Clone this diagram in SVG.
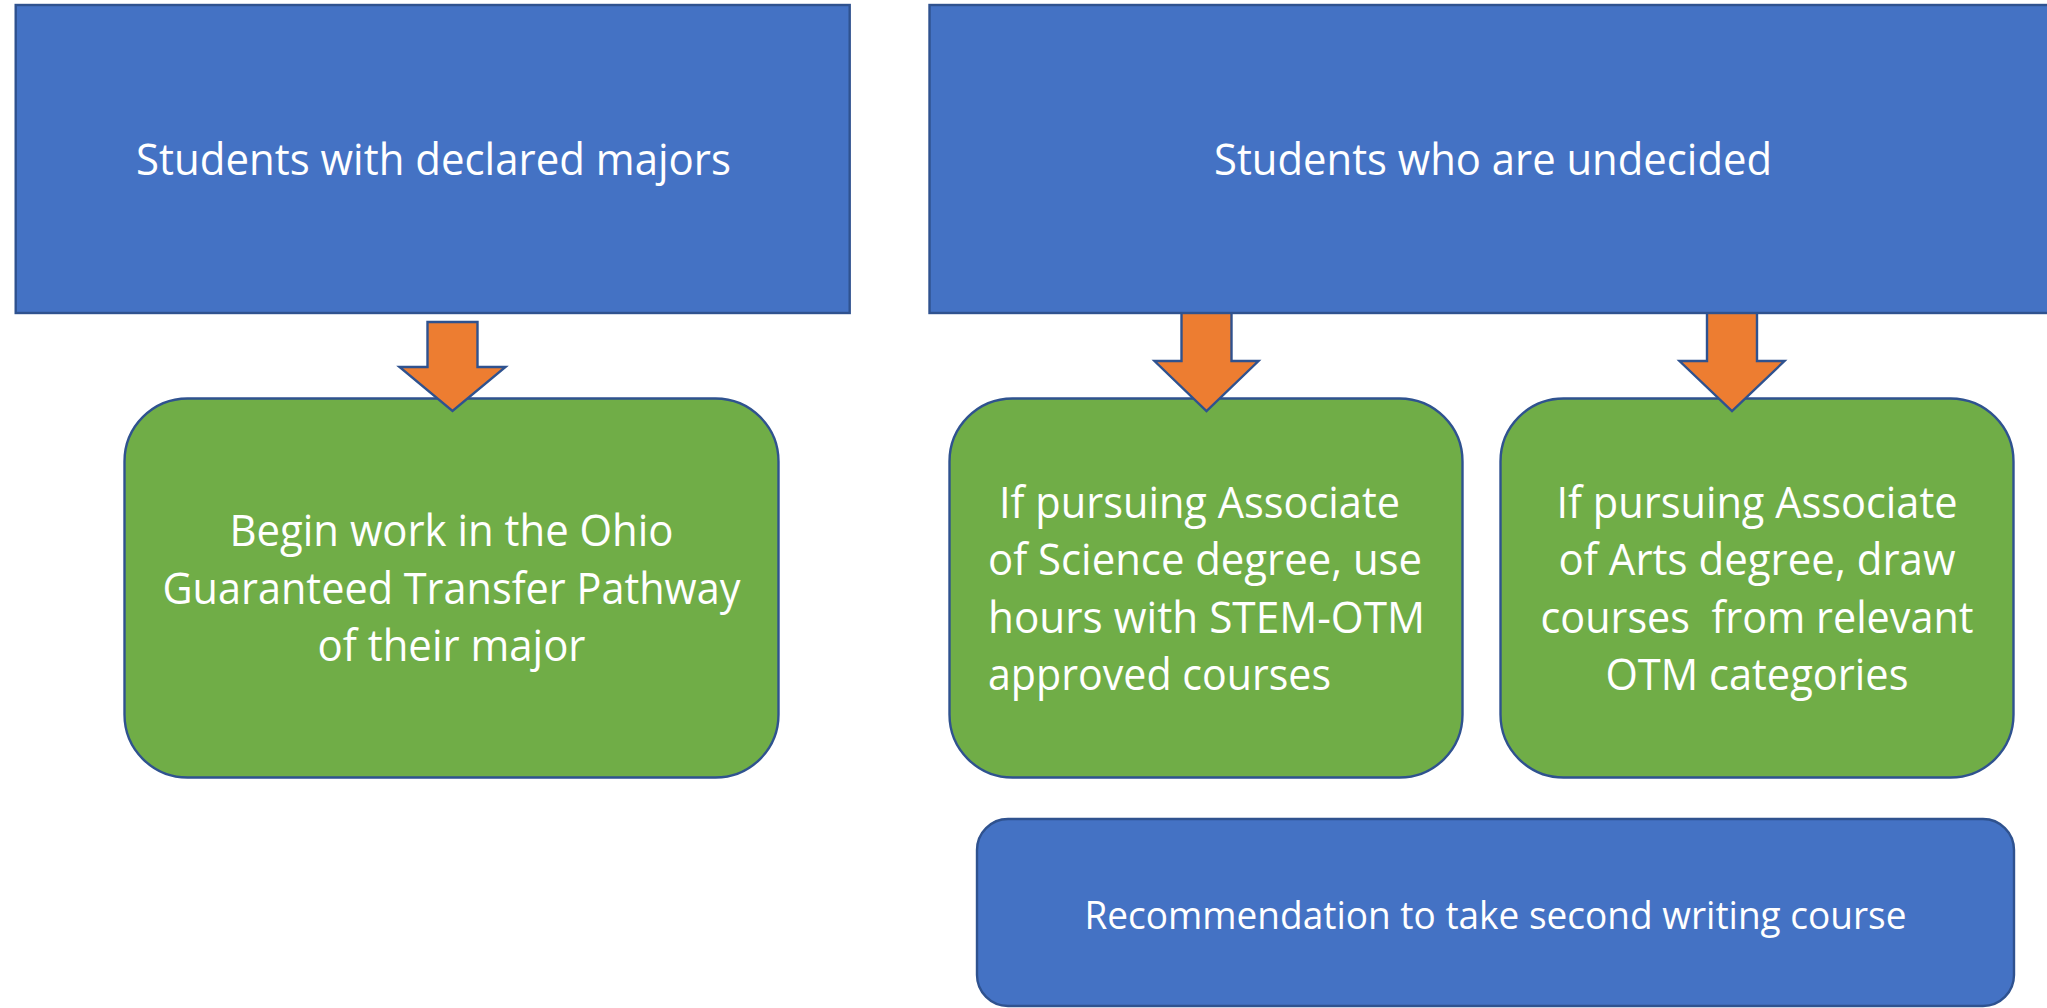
<svg xmlns="http://www.w3.org/2000/svg" width="2047" height="1008" viewBox="0 0 2047 1008">
  <style>
    .blue { fill: #4472C4; stroke: #2F528F; stroke-width: 2.4; }
    .green { fill: #70AD47; stroke: #2F528F; stroke-width: 2.4; }
    .arrow { fill: #ED7D31; stroke: #2F528F; stroke-width: 2.4; stroke-linejoin: miter; }
    .t { fill: #FFFFFF; font-family: "Open Sans", "Noto Sans", "Liberation Sans", sans-serif; font-size: 43px; white-space: pre; }
    .ts { font-size: 37.6px; }
    .c { text-anchor: middle; }
  </style>
  <rect width="2047" height="1008" fill="#FFFFFF"/>

  <!-- pathway outcomes (green) -->
  <g id="pathway">
    <rect class="green" x="124.5" y="398.5" width="654" height="379" rx="63" ry="63"/>
    <text class="t c" x="451.5" y="546" textLength="444" lengthAdjust="spacingAndGlyphs">Begin work in the Ohio</text>
    <text class="t c" x="451.5" y="603.5" textLength="578" lengthAdjust="spacingAndGlyphs">Guaranteed Transfer Pathway</text>
    <text class="t c" x="451.5" y="661" textLength="268" lengthAdjust="spacingAndGlyphs">of their major</text>
  </g>

  <g id="assoc-science">
    <rect class="green" x="949.5" y="398.5" width="513" height="379" rx="63" ry="63"/>
    <text class="t" x="999" y="517.5" textLength="401" lengthAdjust="spacingAndGlyphs">If pursuing Associate</text>
    <text class="t" x="988" y="575" textLength="434" lengthAdjust="spacingAndGlyphs">of Science degree, use</text>
    <text class="t" x="988" y="632.5" textLength="437" lengthAdjust="spacingAndGlyphs">hours with STEM-OTM</text>
    <text class="t" x="988" y="690" textLength="343" lengthAdjust="spacingAndGlyphs">approved courses</text>
  </g>

  <g id="assoc-arts">
    <rect class="green" x="1500.5" y="398.5" width="513" height="379" rx="63" ry="63"/>
    <text class="t c" x="1757" y="517.5" textLength="401" lengthAdjust="spacingAndGlyphs">If pursuing Associate</text>
    <text class="t c" x="1757" y="575" textLength="397" lengthAdjust="spacingAndGlyphs">of Arts degree, draw</text>
    <text class="t c" x="1757" y="632.5" textLength="433" lengthAdjust="spacingAndGlyphs">courses  from relevant</text>
    <text class="t c" x="1757" y="690" textLength="303" lengthAdjust="spacingAndGlyphs">OTM categories</text>
  </g>

  <!-- block arrows -->
  <g id="connectors">
    <polygon class="arrow" points="427.5,322 477.5,322 477.5,367 505.5,367 452.5,411 399.5,367 427.5,367"/>
    <polygon class="arrow" points="1181.5,300 1231.5,300 1231.5,361 1258.5,361 1206.5,411 1154.5,361 1181.5,361"/>
    <polygon class="arrow" points="1707,300 1757,300 1757,361 1784.5,361 1732,411 1679.5,361 1707,361"/>
  </g>

  <!-- student groups (top) -->
  <g id="declared">
    <rect class="blue" x="15.7" y="5" width="834" height="308"/>
    <text class="t c" x="433.5" y="175" textLength="595" lengthAdjust="spacingAndGlyphs">Students with declared majors</text>
  </g>

  <g id="undecided">
    <rect class="blue" x="929.5" y="5" width="1128" height="308"/>
    <text class="t c" x="1493" y="175" textLength="558" lengthAdjust="spacingAndGlyphs">Students who are undecided</text>
  </g>

  <g id="writing">
    <rect class="blue" x="977" y="819" width="1037" height="187" rx="31" ry="31"/>
    <text class="t ts c" x="1495.5" y="929" textLength="822" lengthAdjust="spacingAndGlyphs">Recommendation to take second writing course</text>
  </g>
</svg>
